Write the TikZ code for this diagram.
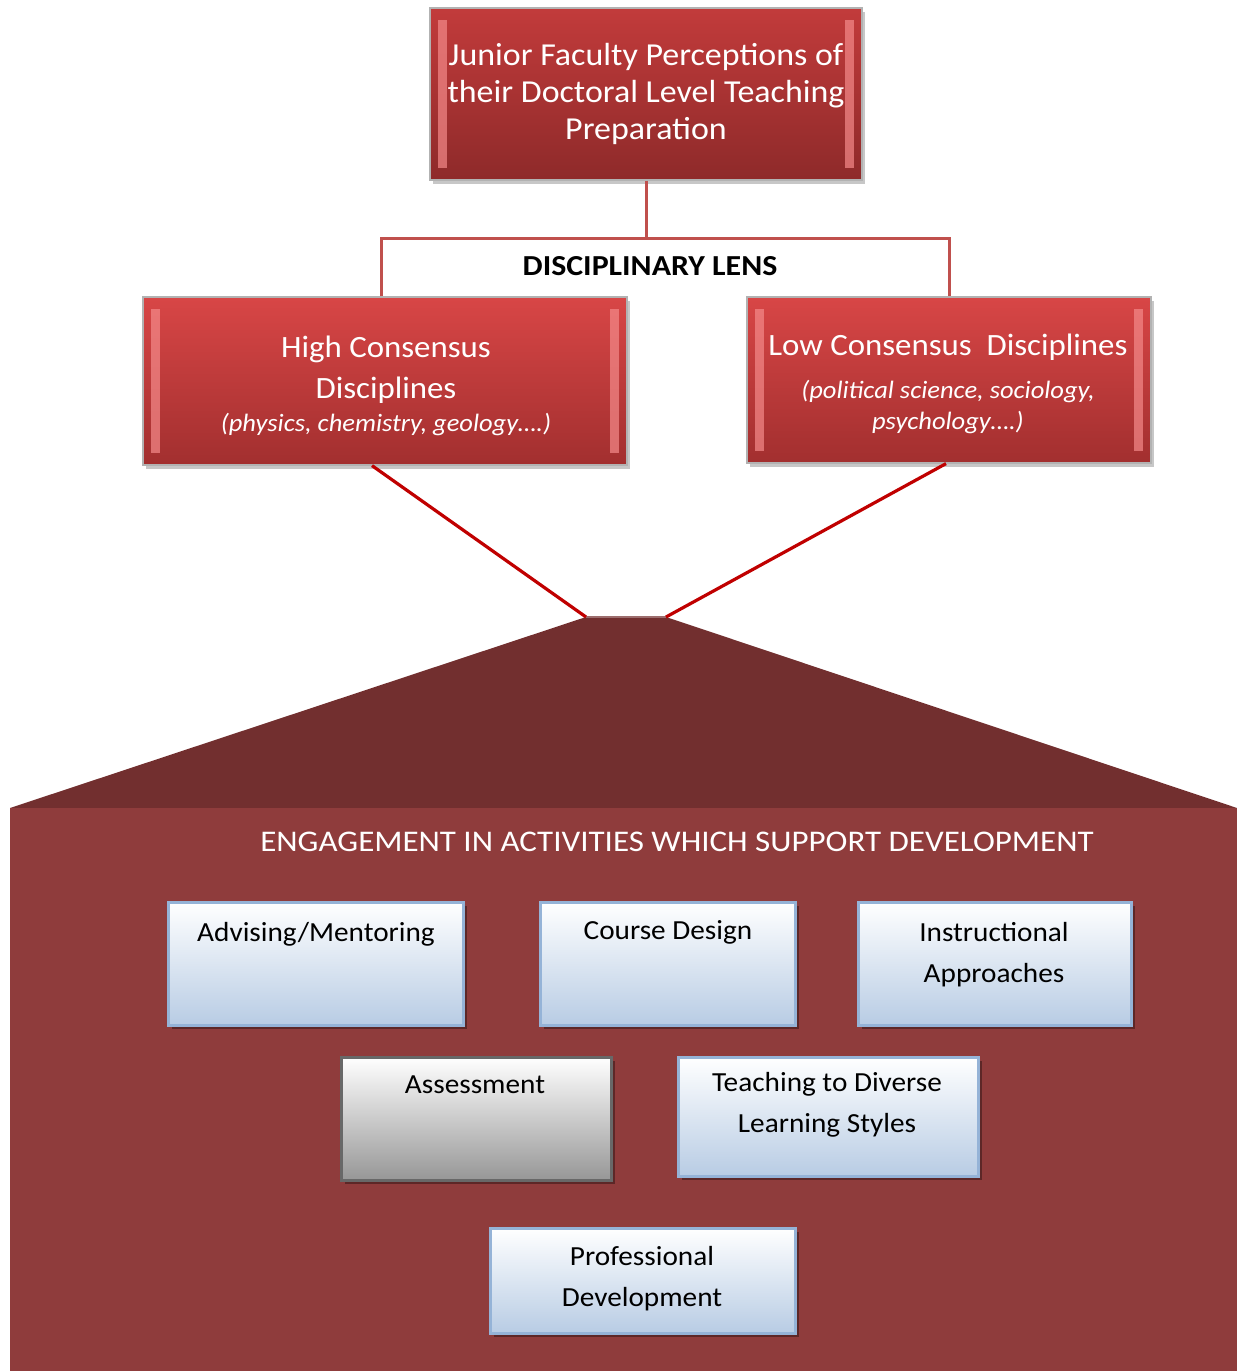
\documentclass[tikz,border=0pt]{standalone}
\usepackage{fontspec}
\setmainfont[FakeStretch=1.06]{Carlito}
\newfontfamily\widefont[FakeStretch=1.1]{Carlito}
\usetikzlibrary{shadows}
\definecolor{topA}{HTML}{C23B3B}
\definecolor{topB}{HTML}{8E2A2A}
\definecolor{midA}{HTML}{D84646}
\definecolor{midB}{HTML}{A22F2F}
\definecolor{bevel}{HTML}{F48A8A}
\definecolor{lenscol}{HTML}{C0504D}
\definecolor{redline}{HTML}{C00000}
\definecolor{trapcol}{HTML}{722F2F}
\definecolor{basecol}{HTML}{8F3C3C}
\definecolor{blueA}{HTML}{FFFFFF}
\definecolor{blueB}{HTML}{B8CCE4}
\definecolor{blueE}{HTML}{95B3D7}
\definecolor{grayB}{HTML}{979797}
\definecolor{grayE}{HTML}{686868}
\tikzset{
  redbox/.style={draw=black!30, line width=0.6pt, inner sep=0pt,
    drop shadow={shadow xshift=1.5pt, shadow yshift=-2pt, fill=black, opacity=0.22},
    path picture={
      \fill[bevel, opacity=0.7] ([xshift=4pt,yshift=-6pt]path picture bounding box.north west) rectangle ([xshift=8.5pt,yshift=6pt]path picture bounding box.south west);
      \fill[bevel, opacity=0.7] ([xshift=-4pt,yshift=-6pt]path picture bounding box.north east) rectangle ([xshift=-8.5pt,yshift=6pt]path picture bounding box.south east);
    }},
  topbox/.style={redbox, top color=topA, bottom color=topB},
  midbox/.style={redbox, top color=midA, bottom color=midB},
  redtext/.style={text=white, align=center, inner sep=0pt},
  bluebox/.style={draw=blueE, line width=1.5pt, top color=blueA, bottom color=blueB, inner sep=0pt,
    drop shadow={shadow xshift=1.8pt, shadow yshift=-2pt, fill=black, opacity=0.35}},
  graybox/.style={bluebox, draw=grayE, top color=white, bottom color=grayB},
  boxtext/.style={align=center, inner sep=0pt, font=\fontsize{13.8}{20.5}\selectfont},
  lensline/.style={draw=lenscol, line width=1.5pt},
  redconn/.style={draw=redline, line width=1.6pt},
}
\begin{document}
\begin{tikzpicture}[x=0.5pt, y=-0.5pt]
\useasboundingbox (0,0) rectangle (1237,1371);

% base shape
\coordinate (tl) at (586,617);
\coordinate (tr) at (666,617);
\coordinate (bl) at (10,808);
\coordinate (br) at (1237,808);
\fill[trapcol] (tl) -- (tr) -- (br) -- (bl) -- cycle;
\draw[color=trapcol!70!white, line width=0.8pt] (tl) -- (tr);
\fill[basecol] (bl) rectangle (1237,1371);

% top box
\node[topbox, minimum width=216pt, minimum height=86pt] (top) at (646,94) {};
\node[redtext, font=\fontsize{16}{18.5}\selectfont] (topt) at (646,94)
  {Junior Faculty Perceptions of\\their Doctoral Level Teaching\\Preparation};

% discipline boxes
\node[midbox, minimum width=242pt, minimum height=84pt] (hc) at (385,381) {};
\node[redtext, font=\fontsize{15.5}{20.5}\selectfont] (hct) at (386,386)
  {High Consensus\\Disciplines\\[-4pt]{\fontsize{12.5}{14}\selectfont\itshape (physics, chemistry, geology….)}};
\node[midbox, minimum width=202pt, minimum height=83pt] (lc) at (949,380) {};
\node[redtext, font=\fontsize{15.5}{20.5}\selectfont] (lct) at (948,383.5)
  {Low Consensus\ \ Disciplines\\[1pt]{\fontsize{12.5}{15}\selectfont\itshape (political science, sociology,}\\[-5pt]{\fontsize{12.5}{15}\selectfont\itshape psychology….)}};

% lens bracket
\coordinate (lens) at (646,238);
\node[font=\widefont\fontsize{14.5}{16}\selectfont\bfseries] (lenslabel) at (650,266) {DISCIPLINARY LENS};
\draw[lensline] ([xshift=-2pt]hc.north) |- (lens) -| (lc.north);
\draw[lensline] (top.south) -- (lens);

% connectors to base
\draw[redconn] ([xshift=-6.5pt]hc.south) -- (tl);
\draw[redconn] ([xshift=-1.5pt]lc.south) -- (tr);

% base title
\node[text=white, font=\widefont\fontsize{15}{17}\selectfont] (eng) at (677,842) {ENGAGEMENT IN ACTIVITIES WHICH SUPPORT DEVELOPMENT};

% activity boxes
\node[bluebox, minimum width=147.5pt, minimum height=61.5pt] (adv) at (315.5,963.5) {};
\node[boxtext] (advt) at (316,934) {Advising/Mentoring};
\node[bluebox, minimum width=127.5pt, minimum height=61.5pt] (cd) at (667.5,963.5) {};
\node[boxtext] (cdt) at (668,932) {Course Design};
\node[bluebox, minimum width=136.5pt, minimum height=61.5pt] (ia) at (994.5,963.5) {};
\node[boxtext] (iat) at (994,954.5) {Instructional\\Approaches};
\node[graybox, minimum width=135pt, minimum height=61.5pt] (as) at (476,1118.5) {};
\node[boxtext] (ast) at (475,1085) {Assessment};
\node[bluebox, minimum width=150pt, minimum height=59.5pt] (td) at (828,1116.5) {};
\node[boxtext] (tdt) at (827,1105) {Teaching to Diverse\\Learning Styles};
\node[bluebox, minimum width=152.5pt, minimum height=52.5pt] (pd) at (642.5,1280.5) {};
\node[boxtext] (pdt) at (642,1279) {Professional\\Development};
\end{tikzpicture}
\end{document}
